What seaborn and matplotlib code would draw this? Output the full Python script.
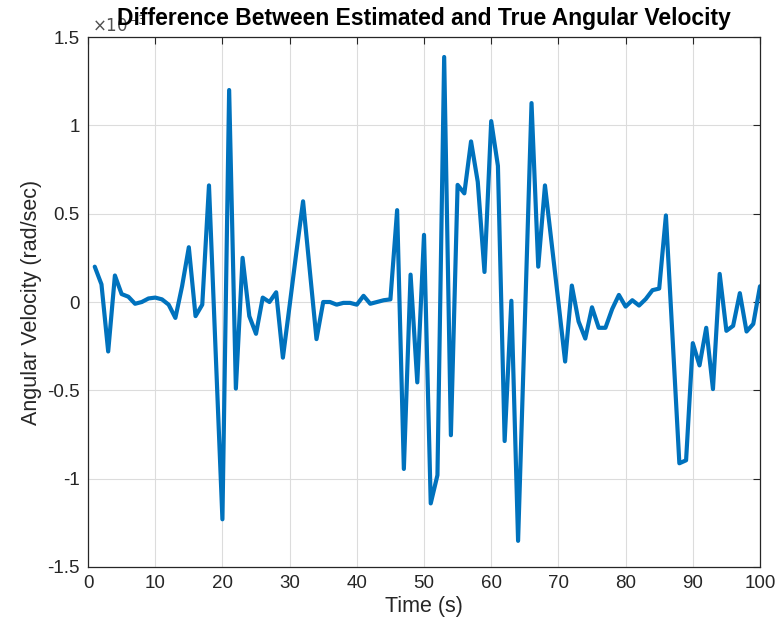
import numpy as np
import pandas as pd
import matplotlib
matplotlib.use("Agg")
import matplotlib.pyplot as plt
import seaborn as sns

time_s = list(range(1, 101))
ang_vel_err = [
    0.20, 0.10, -0.28, 0.15, 0.045, 0.03, -0.01, 0.0, 0.02, 0.025,
    0.015, -0.015, -0.09, 0.09, 0.31, -0.08, -0.015, 0.66, -0.29, -1.23,
    1.20, -0.49, 0.25, -0.08, -0.18, 0.025, 0.0, 0.055, -0.315, -0.02,
    0.28, 0.57, 0.18, -0.21, 0.0, 0.0, -0.015, -0.005, -0.005, -0.015,
    0.035, -0.01, 0.0, 0.01, 0.015, 0.52, -0.945, 0.155, -0.455, 0.38,
    -1.14, -0.98, 1.387, -0.754, 0.663, 0.615, 0.909, 0.68, 0.17, 1.024,
    0.77, -0.787, 0.007, -1.352, -0.12, 1.126, 0.20, 0.66, 0.33, 0.0,
    -0.337, 0.093, -0.11, -0.207, -0.03, -0.146, -0.146, -0.04, 0.04, -0.026,
    0.01, -0.02, 0.017, 0.067, 0.076, 0.49, -0.21, -0.913, -0.896, -0.233,
    -0.359, -0.146, -0.493, 0.159, -0.163, -0.135, 0.05, -0.167, -0.124, 0.089,
]
x_ticks = list(range(0, 101, 10))
y_ticks = [-1.5, -1.0, -0.5, 0.0, 0.5, 1.0, 1.5]
y_tick_labels = ["-1.5", "-1", "-0.5", "0", "0.5", "1", "1.5"]

df = pd.DataFrame({"Time (s)": time_s, "err": ang_vel_err})

sns.set_style("white")
plt.rcParams["font.family"] = ["Liberation Sans", "DejaVu Sans"]

fig = plt.figure(figsize=(7.79, 6.36), dpi=100)
ax = fig.add_axes([0.113, 0.1085, 0.8626, 0.8333])

sns.lineplot(data=df, x="Time (s)", y="err", ax=ax, color="#0072BD", linewidth=3.0)

ax.set_xlim(0, 100)
ax.set_ylim(-1.5, 1.5)
ax.set_xticks(x_ticks)
ax.set_yticks(y_ticks)
ax.set_yticklabels(y_tick_labels)
ax.grid(True, color="#dcdcdc", linewidth=0.8)
ax.set_axisbelow(True)
for s in ax.spines.values():
    s.set_color("#262626")
    s.set_linewidth(0.9)
    s.set_visible(True)
ax.tick_params(direction="in", length=5, width=0.8, colors="#262626",
               labelsize=13.5, top=True, right=True, labeltop=False, labelright=False,
               labelcolor="#262626", pad=6)
ax.set_xlabel("Time (s)", fontsize=15.5, color="#262626", labelpad=3)
ax.set_ylabel("Angular Velocity (rad/sec)", fontsize=15.5, color="#262626", labelpad=4)

# exponent label (partly hidden behind the title, as in the reference)
fig.text(0.118, 0.949, r"$\times10^{-3}$", fontsize=12, color="#505050",
         ha="left", va="baseline", zorder=-1)
ax.set_title("Difference Between Estimated and True Angular Velocity",
             fontsize=16.5, fontweight="bold", color="black", pad=8.6, zorder=5)

fig.savefig("out.png", dpi=100)
